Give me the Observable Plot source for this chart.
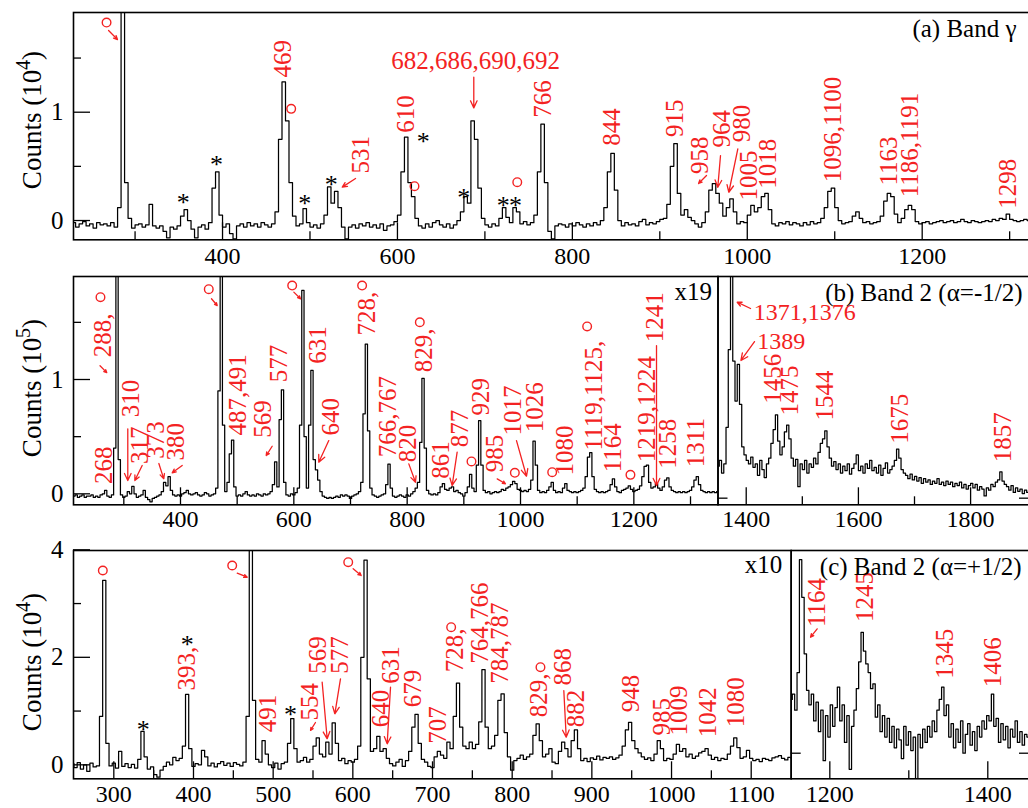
<!DOCTYPE html>
<html><head><meta charset="utf-8">
<script src="https://cdn.jsdelivr.net/npm/d3@7"></script>
<script src="https://cdn.jsdelivr.net/npm/@observablehq/plot@0.6"></script>
<style>
html,body{margin:0;padding:0;background:#fff;width:1028px;height:808px;overflow:hidden;}
#wrap{position:relative;width:1028px;height:808px;overflow:hidden;background:#fff;}
#wrap svg{position:absolute;left:0;top:0;}
#wrap svg text{font-family:"Liberation Serif","Times New Roman","DejaVu Serif",serif !important;}
</style></head><body><div id="wrap"></div>
<script>
// ---------------- spectra (counts per 4 keV bin unless stated) ----------------
// Panel (a) Band gamma, units 10^4, bins from 230 keV, step 4 keV
const aStart = 230, aStep = 4;
const aCounts = [
-0.02,-0.06,-0.03,-0.01,-0.05,-0.03,-0.07,-0.02,-0.04,-0.03,
-0.05,-0.02,-0.06,0.12,2.6,0.35,0.02,-0.07,-0.04,-0.03,
-0.06,-0.04,0.15,-0.05,-0.07,-0.05,-0.10,-0.16,-0.06,-0.08,
-0.05,0.04,0.10,0.00,-0.08,-0.16,-0.06,-0.04,-0.08,-0.02,
0.30,0.45,0.05,-0.06,-0.03,-0.12,-0.17,-0.05,-0.03,-0.06,
-0.02,-0.05,-0.03,-0.06,-0.02,-0.04,-0.06,-0.03,0.08,0.75,
1.28,0.92,0.35,0.04,-0.05,-0.03,0.11,-0.02,-0.06,-0.04,
-0.07,-0.03,0.05,0.31,0.16,0.27,0.12,-0.06,-0.17,-0.06,
-0.04,-0.07,-0.03,-0.05,-0.02,-0.06,-0.04,-0.07,-0.03,-0.09,
-0.05,-0.04,-0.01,0.05,0.45,0.77,0.35,0.22,0.02,-0.05,
-0.07,-0.03,-0.06,-0.02,0.00,-0.04,-0.06,-0.03,-0.07,-0.04,
0.00,0.08,0.22,0.16,0.92,0.75,0.30,0.02,-0.04,-0.06,
-0.03,-0.05,0.02,0.12,0.03,-0.02,0.12,0.08,-0.03,-0.01,
-0.04,-0.02,0.05,0.45,0.89,0.35,-0.10,-0.17,-0.05,-0.03,
-0.04,-0.06,-0.03,-0.05,-0.02,-0.04,-0.06,-0.03,-0.05,-0.02,
-0.04,0.00,0.12,0.45,0.62,0.28,0.00,-0.05,-0.02,-0.04,
-0.03,-0.05,-0.01,0.01,-0.04,-0.02,-0.03,-0.01,0.01,0.02,
0.15,0.50,0.71,0.25,0.05,0.10,0.03,0.00,-0.03,-0.06,
-0.02,0.08,0.28,0.34,0.25,0.16,0.04,0.12,0.20,0.08,
-0.03,-0.01,-0.02,0.05,0.14,0.08,0.12,0.22,0.25,0.10,
-0.03,-0.05,-0.02,-0.03,-0.01,-0.04,-0.02,-0.03,-0.05,-0.02,
-0.04,-0.01,-0.03,-0.02,0.02,0.12,0.27,0.30,0.12,0.00,
-0.03,-0.02,-0.01,0.04,0.08,0.02,-0.02,-0.01,-0.03,-0.02,
-0.01,0.04,0.18,0.25,0.22,0.06,-0.02,0.02,0.10,0.14,
0.10,-0.01,-0.03,-0.02,-0.01,-0.03,-0.02,-0.01,0.00,-0.02,
-0.01,0.00,-0.02,-0.01,0.01,-0.01,-0.02,0.00,-0.01,-0.02,
-0.01,0.00,-0.01,0.01,0.00,0.02,0.01,0.06,0.01,0.00,
-0.01,0.00,0.01,0.00];

// Panel (b) Band 2 (alpha=-1/2), low-energy part, units 10^5, from 212 keV step 4
const bStart = 212, bStep = 4;
const bCounts = [
-0.02,-0.01,-0.03,-0.02,-0.01,-0.03,-0.02,-0.02,-0.01,-0.03,
-0.02,-0.03,-0.01,0.00,0.03,-0.02,-0.03,-0.01,0.40,2.50,
0.30,-0.01,-0.03,-0.02,0.02,0.00,0.065,0.00,-0.03,-0.02,
-0.01,0.03,-0.03,-0.05,-0.07,-0.04,-0.03,-0.02,-0.01,0.02,
0.10,0.07,0.15,0.03,-0.01,-0.02,-0.01,-0.02,0.00,0.01,
0.03,0.00,-0.01,0.00,0.01,-0.01,-0.02,-0.01,0.01,0.00,
-0.02,-0.01,0.00,0.05,0.90,2.50,0.60,0.02,0.10,0.35,
0.47,0.06,-0.02,-0.01,-0.02,0.00,0.02,-0.01,-0.02,-0.01,
-0.02,0.00,-0.01,-0.02,0.00,-0.01,0.00,0.02,0.08,0.28,
0.06,0.65,0.91,0.10,-0.01,-0.02,0.00,-0.01,0.01,0.05,
0.60,1.78,0.50,0.05,0.60,1.08,0.30,0.21,0.12,0.02,
-0.02,-0.03,-0.04,-0.03,-0.04,-0.03,-0.02,-0.03,-0.01,-0.02,
-0.01,-0.02,-0.04,-0.02,-0.01,0.00,0.02,0.10,0.70,1.31,
0.55,0.05,-0.01,-0.02,-0.03,-0.02,-0.01,0.00,0.08,0.26,
0.05,-0.02,-0.03,-0.02,-0.01,-0.02,-0.03,-0.01,-0.02,0.00,
0.02,0.05,0.10,0.45,1.01,0.40,0.03,0.00,-0.01,0.00,
-0.01,0.01,0.06,0.09,0.04,0.03,0.05,0.06,0.02,0.03,
0.01,0.00,-0.02,0.01,0.06,0.17,0.05,0.02,0.25,0.64,
0.25,0.03,0.01,0.02,0.00,0.01,0.02,0.01,0.02,0.04,
0.03,0.05,0.06,0.08,0.11,0.09,0.04,0.03,0.02,0.03,
0.02,0.04,0.12,0.46,0.25,0.03,0.01,0.02,0.01,0.03,
0.06,0.10,0.03,0.01,0.02,0.01,0.05,0.09,0.03,0.02,
0.01,0.02,0.01,0.02,0.03,0.05,0.15,0.32,0.36,0.15,
0.04,0.02,0.01,0.02,0.01,0.02,0.03,0.08,0.13,0.06,
0.02,0.01,0.03,0.04,0.05,0.07,0.04,0.02,0.03,0.04,
0.07,0.15,0.24,0.25,0.10,0.05,0.06,0.09,0.05,0.03,
0.06,0.12,0.14,0.06,0.03,0.02,0.01,0.02,0.01,0.02,
0.01,0.02,0.03,0.06,0.12,0.15,0.08,0.03,0.02,0.01,
0.02,0.01,0.02,0.01,0.02];

// Panel (b) high-energy part (scaled x19), from 1350 keV step 4
const bhStart = 1350, bhStep = 4;
const bhCounts = [
0.28,0.33,0.22,0.30,0.62,1.30,2.10,1.20,0.85,1.17,
0.82,0.45,0.38,0.33,0.30,0.36,0.27,0.30,0.20,0.33,
0.25,0.18,0.30,0.35,0.48,0.60,0.73,0.50,0.38,0.45,
0.58,0.64,0.52,0.35,0.28,0.34,0.10,0.30,0.25,0.33,
0.22,0.30,0.27,0.35,0.30,0.40,0.48,0.52,0.59,0.45,
0.35,0.28,0.32,0.25,0.30,0.22,0.28,0.24,0.30,0.21,
0.26,0.30,0.38,0.24,0.28,0.22,0.30,0.26,0.33,0.24,
0.27,0.22,0.29,0.20,0.26,0.31,0.22,0.25,0.28,0.33,
0.43,0.35,0.25,0.22,0.20,0.17,0.21,0.16,0.19,0.15,
0.18,0.13,0.17,0.14,0.16,0.12,0.15,0.13,0.17,0.12,
0.14,0.11,0.15,0.12,0.14,0.10,0.13,0.11,0.14,0.09,
0.12,0.08,0.11,0.13,0.09,0.12,0.07,0.10,0.08,0.02,
0.09,0.07,0.12,0.10,0.14,0.16,0.23,0.15,0.12,0.10,
0.07,0.11,0.05,0.09,0.06,0.08,0.04,0.07,0.05];

// Panel (c) Band 2 (alpha=+1/2), low-energy part, units 10^4, from 248 keV step 4
const cStart = 248, cStep = 4;
const cCounts = [
0.02,-0.05,0.04,-0.08,0.00,-0.12,0.03,-0.04,-0.02,0.90,
3.43,0.40,-0.02,0.03,-0.06,0.25,-0.03,0.02,-0.05,0.01,
-0.06,0.10,0.62,0.15,-0.08,-0.04,-0.18,-0.23,-0.10,-0.03,
0.05,0.00,0.14,0.08,0.12,0.35,1.31,0.30,-0.03,0.02,
0.00,0.27,0.15,-0.02,0.03,-0.04,0.02,0.06,-0.01,0.03,
-0.03,0.04,0.01,-0.02,0.05,0.90,4.50,1.20,0.10,0.05,
0.45,0.20,0.00,-0.05,0.03,-0.08,0.02,0.05,0.40,0.86,
0.30,0.05,0.08,0.14,0.05,0.10,0.35,0.50,0.20,0.15,
0.42,0.20,0.78,0.40,0.08,0.12,0.02,0.08,0.05,0.10,
0.35,2.00,3.81,1.60,0.25,0.30,0.53,0.25,0.30,0.12,
0.02,-0.02,0.05,0.10,-0.03,0.08,0.25,0.70,0.94,0.40,
0.10,0.05,-0.03,-0.05,0.15,0.25,0.18,0.12,0.42,0.30,
0.90,1.52,0.70,0.35,0.30,0.42,0.30,0.38,0.80,1.77,
0.70,0.30,0.35,0.55,1.20,1.32,0.60,0.15,-0.10,0.08,
0.12,0.18,0.10,0.15,0.20,0.55,0.76,0.45,0.15,0.20,
0.30,0.05,0.02,0.25,0.42,0.30,0.15,0.45,0.65,0.30,
0.08,0.12,0.06,0.13,0.10,0.16,0.09,0.14,0.12,0.15,
0.10,0.13,0.18,0.35,0.65,0.79,0.45,0.30,0.22,0.15,
0.10,0.13,0.08,0.20,0.45,0.30,0.08,0.12,0.10,0.20,
0.38,0.25,0.30,0.15,0.20,0.12,0.16,0.22,0.25,0.30,
0.18,0.10,0.14,0.08,0.12,0.10,0.20,0.35,0.50,0.32,
0.12,0.15,0.27,0.12,0.08,0.10,0.06,0.12,0.10,0.08,
0.13,0.15,0.17,0.12,0.09,0.14,0.11];

// Panel (c) high-energy part (scaled x10), from 1151 keV step 3
const chStart = 1151, chStep = 3;
const chCounts = [
1.00,1.10,0.80,1.50,3.60,2.90,1.85,1.17,0.90,1.10,
0.60,0.95,0.40,0.80,-0.14,0.70,0.30,0.90,0.50,0.85,
1.23,0.60,0.90,0.20,0.70,-0.30,0.50,0.80,1.20,1.70,
2.25,1.90,1.66,1.50,1.20,1.29,0.67,0.90,0.40,0.70,
0.30,0.65,0.20,0.50,0.10,0.45,0.25,-0.10,0.50,0.15,
0.40,0.05,0.30,-0.48,0.35,0.10,0.45,0.20,0.50,0.30,
0.60,0.40,0.80,1.00,1.23,0.70,0.90,0.30,0.55,0.10,
0.45,0.20,0.60,0.00,0.35,0.55,0.15,0.40,0.05,0.50,
0.30,0.60,0.45,0.70,0.60,1.10,0.50,0.65,0.20,0.55,
0.25,0.50,0.10,0.45,0.30,0.60,0.20,0.40,0.15,0.35,
0.30];

// ---------------- ticks ----------------
const aXMajor = [400, 600, 800, 1000, 1200];
const aXMinor = [300, 500, 700, 900, 1100, 1300];
const aYMajor = [0, 1];
const aYMinor = [0.5, 1.5];
const bXMajor = [400, 600, 800, 1000, 1200];
const bXMinor = [300, 500, 700, 900, 1100, 1300];
const bYMajor = [0, 1];
const bYMinor = [0.5, 1.5];
const bhXMajor = [1400, 1600, 1800];
const bhXMinor = [1500, 1700];
const cXMajor = [300, 400, 500, 600, 700, 800, 900, 1000, 1100];
const cXMinor = [350, 450, 550, 650, 750, 850, 950, 1050];
const cYMajor = [0, 2, 4];
const cYMinor = [1, 3];
const chXMajor = [1200, 1400];
const chXMinor = [1300];
const rightZero = [0];

// ---------------- annotations: [text, energy keV, height] ----------------
const aRot = [["469",469.2,1.32],["531",557.8,0.434],["610",610.2,0.81],["766",766.5,0.95],["844",844.8,0.69],
  ["915",916.8,0.77],["958",946.5,0.43],["964",971.3,0.674],["980",993.8,0.723],["1005",1001.8,0.185],
  ["1018",1023.7,0.293],["1096,1100",1098,0.354],["1163",1162.6,0.323],["1186,1191",1185.7,0.215],["1298",1298.1,0.108]];
const aHor = [["682,686,690,692",689.3,1.477]];
const aArrows = [[269.7,1.754,279.9,1.671],[552.1,0.388,536.9,0.308],[687.3,1.323,687.3,1.04],
  [953.4,0.416,944.3,0.342],[969.4,0.60,966.3,0.307],[989.2,0.662,978.9,0.261]];
const aCircles = [[267.4,1.828],[478.5,1.031],[619.5,0.317],[737,0.354]];
const aStars = [[355.1,0.22],[393.1,0.57],[494.1,0.215],[524.3,0.385],[629.5,0.785],[675.9,0.27],[721,0.19],[735,0.19]];

const bRot = [["268",264.7,0.086],["288,",263.2,1.195],["310",311.8,0.67],["317",329.4,0.26],["373",357.3,0.306],
  ["380",392.6,0.291],["487,491",501.5,0.51],["569",545.6,0.49],["577",573.5,0.977],["631",642.6,1.137],
  ["640",666.2,0.51],["728,",729.4,1.386],["766,767",766.2,0.32],["820",801.4,0.276],["829,",829.4,1.064],
  ["861",860.3,0.131],["877",892.7,0.408],["929",930.8,0.685],["985",955.8,0.189],["1017",986.7,0.51],
  ["1026",1025,0.539],["1080",1077.9,0.16],["1119,1125,",1129.3,0.379],["1164",1163.2,0.189],
  ["1219,1224",1223.5,0.276],["1241",1236.8,1.326],["1258",1260.3,0.219],["1311",1310.3,0.233]];
const bArrows = [[258,1.12,270,1.06],[307,0.569,307,0.116],[332.4,0.248,319.4,0.116],[361.8,0.265,370.5,0.131],
  [403,0.248,385.4,0.184],[454.7,1.706,464.8,1.647],[561.8,0.416,551.2,0.335],[600,1.764,611.8,1.706],
  [661.7,0.466,644,0.276],[802.9,0.262,814.7,0.101],[888.2,0.364,879.4,0.073],[958.9,0.131,973.5,0.088],
  [992.9,0.466,1010.6,0.154],[1240,1.297,1240,0.073]];
const bCircles = [[258.8,1.72],[449.9,1.79],[597.1,1.822],[720.5,1.822],[822.3,1.501],[913.5,0.283],
  [990,0.184],[1055.9,0.189],[1117.6,1.464],[1194,0.166]];

const bhRot = [["1456",1447.8,0.826],["1475",1477.5,0.724],["1544",1539.9,0.68],["1675",1673.6,0.476],["1857",1857.8,0.315]];
const bhHor = [["1371,1376",1413.5,1.625],["1389",1419.6,1.375]];
const bhArrows = [[1407.7,1.66,1383.9,1.715],[1414.8,1.37,1390.6,1.205]];

const cRot = [["393,",392.1,1.382],["491",493.5,0.607],["554",545.9,0.824],["569",556.3,1.693],["577",584.5,1.693],
  ["640",635.8,0.7],["631",648.3,1.507],["679",675.5,1.072],["707",706.9,0.391],["728,",728.8,1.723],
  ["764,766",760.2,1.879],["784,787",785.3,1.507],["829,",833.4,0.886],["868",863.8,1.475],["882",880.4,0.7],
  ["948",949.5,0.979],["985",988.3,0.545],["1009",1009.1,0.545],["1042",1045.7,0.514],["1080",1081.2,0.7]];
const cArrows = [[454.9,3.565,467.4,3.49],[553.1,0.787,546.9,0.640],[561.5,1.537,567.8,0.484],[584.5,1.6,577.4,0.949],
  [600.4,3.647,610.5,3.522],[647.3,1.444,643.1,0.39],[864.8,1.382,867.8,0.514]];
const cCircles = [[286.2,3.615],[448.6,3.708],[594.2,3.77],[723.4,2.56],[835.5,1.816]];
const cStars = [[336.9,0.774],[392.1,2.344],[521.8,1.042]];

const chRot = [["1164",1184,2.346],["1245",1244.2,2.44],["1345",1345.4,1.384],["1406",1406.6,1.228]];
const chArrows = [[1184,2.314,1175.6,2.158]];

// ---------------- drawing ----------------
const RED = "#f32222";
const FONT = "Liberation Serif, Times New Roman, DejaVu Serif, serif";
const W = 1031, H = 808;

function series(start, step, counts) { return counts.map((c, i) => ({e: start + i * step, c})); }

function panel(o) {
  const [x0, x1] = o.xd, [y0, y1] = o.yd;
  const kx = (o.R - o.L) / (x1 - x0), ky = (o.B - o.T) / (y1 - y0);
  const txt = {fontSize: 25, fontFamily: FONT, lineAnchor: "middle"};
  const tick = {fontSize: 24, fontFamily: FONT, lineAnchor: "middle", fill: "#000"};
  const marks = [
    Plot.line(o.data, {x: "e", y: "c", curve: "step", stroke: "#000", strokeWidth: 1.25, clip: true}),
    Plot.frame({stroke: "#000", strokeWidth: 1.6}),
    Plot.ruleX(o.xMajor, {x: d => d, y1: y0, y2: y0 + 17 / ky, stroke: "#000", strokeWidth: 1.3}),
    Plot.ruleX(o.xMinor, {x: d => d, y1: y0, y2: y0 + 8 / ky, stroke: "#000", strokeWidth: 1.3}),
    Plot.text(o.xMajor, {...tick, x: d => d, frameAnchor: "bottom", dy: o.xdy, text: d => String(d)})
  ];
  if (o.yMajor) {
    marks.push(Plot.ruleY(o.yMajor, {y: d => d, x1: x0, x2: x0 + 17 / kx, stroke: "#000", strokeWidth: 1.3}));
    marks.push(Plot.ruleY(o.yMinor, {y: d => d, x1: x0, x2: x0 + 8 / kx, stroke: "#000", strokeWidth: 1.3}));
    marks.push(Plot.text(o.yMajor, {...tick, fontSize: 25, y: d => d, frameAnchor: "left", dx: -10, textAnchor: "end", text: d => String(d)}));
  }
  if (o.yRight) {
    marks.push(Plot.ruleY(o.yRight, {y: d => d, x1: x0, x2: x0 + 10 / kx, stroke: "#000", strokeWidth: 1.3}));
    marks.push(Plot.ruleY(o.yRight, {y: d => d, x1: x1 - 10 / kx, x2: x1, stroke: "#000", strokeWidth: 1.3}));
  }
  if (o.rot) marks.push(Plot.text(o.rot, {...txt, x: d => d[1], y: d => d[2], text: d => d[0], rotate: -90, textAnchor: "start", fill: RED}));
  if (o.hor) marks.push(Plot.text(o.hor, {...txt, fontSize: o.horSize || 25, x: d => d[1], y: d => d[2], text: d => d[0], textAnchor: o.horAnchor || "middle", fill: RED}));
  if (o.arrows) marks.push(Plot.arrow(o.arrows, {x1: d => d[0], y1: d => d[1], x2: d => d[2], y2: d => d[3], stroke: RED, strokeWidth: 1.3, headLength: 9, headAngle: 50}));
  if (o.circles) marks.push(Plot.dot(o.circles, {x: d => d[0], y: d => d[1], r: 4.3, stroke: RED, fill: "none", strokeWidth: 1.4}));
  if (o.stars) marks.push(Plot.text(o.stars, {...txt, x: d => d[0], y: d => d[1], text: () => "*", fill: "#000", fontSize: 26, dy: 6}));
  if (o.title) marks.push(Plot.text([o.title], {...txt, frameAnchor: "top-right", dx: o.tdx, dy: o.tdy, textAnchor: "end", text: d => d, fill: "#000"}));
  if (o.scale) marks.push(Plot.text([o.scale], {...txt, frameAnchor: "top-right", dx: o.sdx, dy: o.sdy, textAnchor: "end", text: d => d, fill: "#000"}));

  const svg = Plot.plot({
    width: W, height: H,
    marginLeft: o.L, marginRight: W - o.R, marginTop: o.T, marginBottom: H - o.B,
    x: {domain: o.xd, axis: null},
    y: {domain: o.yd, axis: null},
    style: {background: "transparent", maxWidth: "none", overflow: "visible", fontFamily: FONT},
    marks
  });
  if (o.ylab) {
    const t = d3.select(svg).append("text")
      .attr("transform", `translate(41,${o.ylabY}) rotate(-90)`)
      .attr("text-anchor", "middle").attr("font-family", FONT).attr("font-size", 27).attr("fill", "#000");
    t.append("tspan").text("Counts (10");
    t.append("tspan").attr("dy", -11).attr("font-size", 20).text(o.ylab);
    t.append("tspan").attr("dy", 11).text(")");
  }
  document.getElementById("wrap").appendChild(svg);
}

// (a)
panel({L: 73, R: 1029, T: 12, B: 239.3, xd: [229.6, 1322.7], yd: [-0.178, 1.9206],
  data: series(aStart, aStep, aCounts), xMajor: aXMajor, xMinor: aXMinor, yMajor: aYMajor, yMinor: aYMinor, xdy: 17,
  rot: aRot, hor: aHor, arrows: aArrows, circles: aCircles, stars: aStars,
  title: "(a) Band γ", tdx: -13, tdy: 16, ylab: "4", ylabY: 120});
// (b) left
panel({L: 73, R: 717.5, T: 276, B: 504.3, xd: [211.2, 1348.5], yd: [-0.096, 1.901],
  data: series(bStart, bStep, bCounts), xMajor: bXMajor, xMinor: bXMinor, yMajor: bYMajor, yMinor: bYMinor, xdy: 15,
  rot: bRot, arrows: bArrows, circles: bCircles, scale: "x19", sdx: -6, sdy: 15, ylab: "5", ylabY: 388});
// (b) right
panel({L: 717.5, R: 1029, T: 276, B: 504.3, xd: [1349.7, 1905], yd: [-0.058, 1.94],
  data: series(bhStart, bhStep, bhCounts), xMajor: bhXMajor, xMinor: bhXMinor, yRight: rightZero, xdy: 15,
  rot: bhRot, hor: bhHor, horAnchor: "start", horSize: 24, arrows: bhArrows,
  title: "(b) Band 2 (α=-1/2)", tdx: -7, tdy: 16});
// (c) left
panel({L: 73, R: 790.7, T: 550, B: 778.3, xd: [249.4, 1150.2], yd: [-0.26, 3.987],
  data: series(cStart, cStep, cCounts), xMajor: cXMajor, xMinor: cXMinor, yMajor: cYMajor, yMinor: cYMinor, xdy: 15.5,
  rot: cRot, arrows: cArrows, circles: cCircles, stars: cStars, scale: "x10", sdx: -9, sdy: 14, ylab: "4", ylabY: 662});
// (c) right
panel({L: 790.7, R: 1029, T: 550, B: 778.3, xd: [1151.1, 1452.8], yd: [-0.476, 3.771],
  data: series(chStart, chStep, chCounts), xMajor: chXMajor, xMinor: chXMinor, yRight: rightZero, xdy: 15.5,
  rot: chRot, arrows: chArrows,
  title: "(c) Band 2 (α=+1/2)", tdx: -8, tdy: 16});
</script></body></html>
